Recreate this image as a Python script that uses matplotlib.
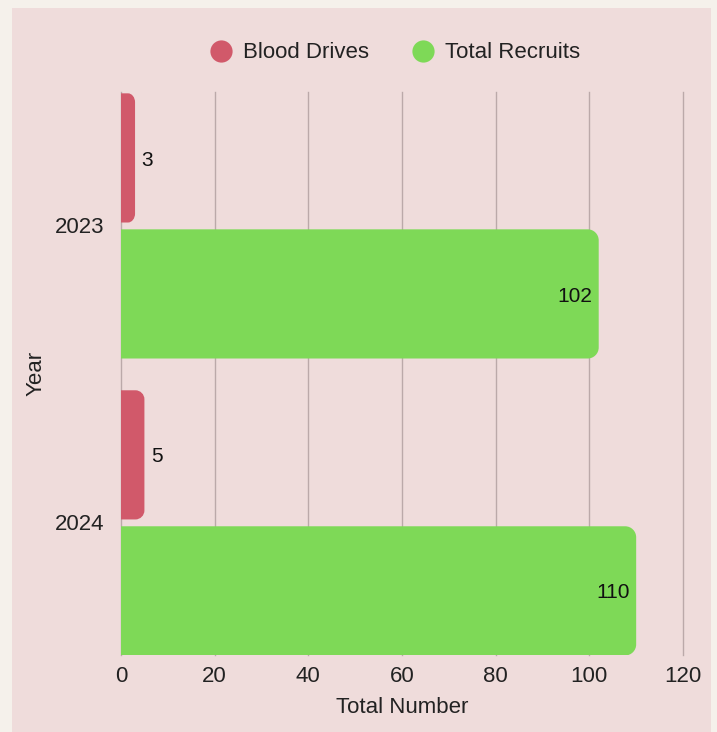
import matplotlib
matplotlib.use("Agg")
import matplotlib.pyplot as plt
from matplotlib.patches import Rectangle, PathPatch
from matplotlib.path import Path
from matplotlib.lines import Line2D

plt.rcParams['font.family'] = ['Liberation Sans', 'DejaVu Sans']

years = ["2023", "2024"]
blood_drives = [3, 5]
total_recruits = [102, 110]
series_names = ["Blood Drives", "Total Recruits"]
colors = ["#d1596a", "#7ed957"]
xticks = [0, 20, 40, 60, 80, 100, 120]

W, H = 717, 732
fig = plt.figure(figsize=(W / 100, H / 100), dpi=100)
fig.patch.set_facecolor("#f5f1eb")
fig.add_artist(Rectangle((12 / W, 0), (711 - 12) / W, (H - 8) / H,
                         transform=fig.transFigure, facecolor="#efdcdb",
                         edgecolor="none", zorder=0))

ax_l, ax_r, ax_t, ax_b = 121, 683, 92, 655
ax = fig.add_axes([ax_l / W, 1 - ax_b / H, (ax_r - ax_l) / W, (ax_b - ax_t) / H])
ax.set_facecolor("none")

xmin, xmax = 0, 120
ylo, yhi = -0.448, 1.448
ax.set_xlim(xmin, xmax)
ax.set_ylim(yhi, ylo)

px_x = (ax_r - ax_l) / (xmax - xmin)
px_y = (ax_b - ax_t) / (yhi - ylo)

bar_h = 0.435
offsets = [-0.226, 0.232]


def rounded_right(x0, y0, w, h, r_px, color):
    rx = min(r_px / px_x, w / 2)
    ry = min(r_px / px_y, h / 2)
    k = 0.5523
    x1, y1 = x0 + w, y0 + h
    verts = [(x0, y0), (x1 - rx, y0),
             (x1 - rx + k * rx, y0), (x1, y0 + ry - k * ry), (x1, y0 + ry),
             (x1, y1 - ry),
             (x1, y1 - ry + k * ry), (x1 - rx + k * rx, y1), (x1 - rx, y1),
             (x0, y1), (x0, y0)]
    codes = [Path.MOVETO, Path.LINETO,
             Path.CURVE4, Path.CURVE4, Path.CURVE4,
             Path.LINETO,
             Path.CURVE4, Path.CURVE4, Path.CURVE4,
             Path.LINETO, Path.CLOSEPOLY]
    ax.add_patch(PathPatch(Path(verts, codes), facecolor=color,
                           edgecolor="none", zorder=3))


for si, vals in enumerate([blood_drives, total_recruits]):
    for i, v in enumerate(vals):
        yc = i + offsets[si]
        bars = ax.barh(yc, v, height=bar_h, color=colors[si], alpha=0)
        r = bars[0]
        rounded_right(r.get_x(), r.get_y(), r.get_width(), r.get_height(),
                      11 if v > 20 else 9, colors[si])
        if v > 20:
            ax.annotate(str(v), (v, yc), xytext=(-4.5, -1.5), textcoords="offset points",
                        ha="right", va="center", fontsize=15, color="#111111", zorder=4)
        else:
            ax.annotate(str(v), (v, yc), xytext=(4.5, -1.5), textcoords="offset points",
                        ha="left", va="center", fontsize=15, color="#111111", zorder=4)

ax.set_xticks(xticks)
ax.set_xticklabels([str(t) for t in xticks], fontsize=16, color="#222222")
ax.set_yticks(range(len(years)))
ax.set_yticklabels(years, fontsize=16, color="#222222")
ax.tick_params(length=0, pad=8)
ax.tick_params(axis="y", pad=12)
ax.grid(axis="x", color="#bba9a9", linewidth=1.0, zorder=1)
for gl in ax.get_xgridlines():
    gl.set_clip_on(False)
ax.set_axisbelow(True)
for s in ax.spines.values():
    s.set_visible(False)

ax.set_xlabel("Total Number", fontsize=16, color="#222222", labelpad=7)
ax.set_ylabel("Year", fontsize=16, color="#222222", labelpad=6)

handles = [Line2D([], [], marker="o", linestyle="none", markersize=16,
                  markerfacecolor=c, markeredgecolor="none") for c in colors]
fig.legend(handles, series_names, loc="center", bbox_to_anchor=(395 / W, 1 - 53 / H),
           ncol=2, frameon=False, fontsize=16, handletextpad=0.5,
           columnspacing=1.95, handlelength=1.0, labelcolor="#222222")

fig.savefig("out.png", dpi=100, facecolor=fig.get_facecolor())
